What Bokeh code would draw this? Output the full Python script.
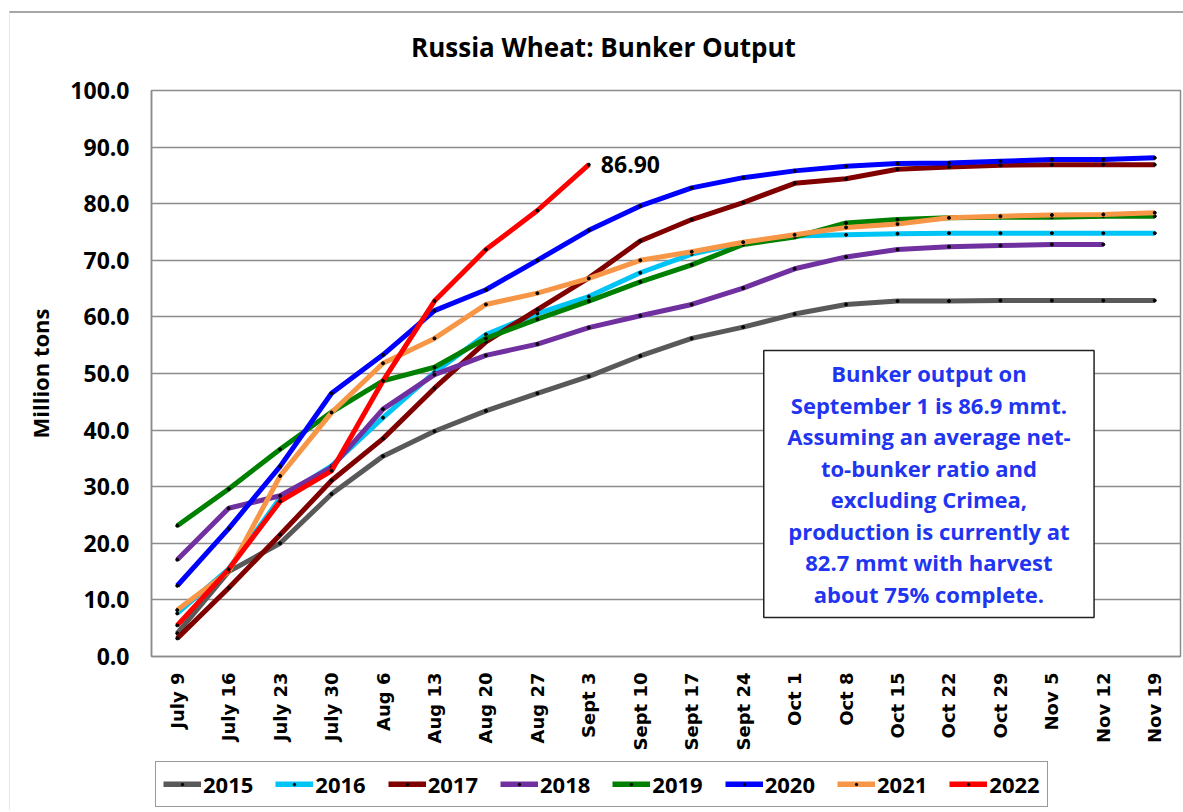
import math
from bokeh.plotting import figure
from bokeh.layouts import column
from bokeh.models import (ColumnDataSource, Legend, LegendItem, Label, BoxAnnotation,
                          FixedTicker, NumeralTickFormatter, Range1d, FactorRange)
from bokeh.embed import file_html
from bokeh.resources import INLINE

weeks = ["July 9", "July 16", "July 23", "July 30", "Aug 6", "Aug 13", "Aug 20", "Aug 27",
         "Sept 3", "Sept 10", "Sept 17", "Sept 24", "Oct 1", "Oct 8", "Oct 15", "Oct 22",
         "Oct 29", "Nov 5", "Nov 12", "Nov 19"]

years = ["2015", "2016", "2017", "2018", "2019", "2020", "2021", "2022"]

s2015 = [4.1, 15.0, 20.0, 28.7, 35.4, 39.8, 43.4, 46.5, 49.5, 53.1, 56.2, 58.2, 60.5, 62.2,
         62.8, 62.8, 62.9, 62.9, 62.9, 62.9]
s2016 = [7.6, 15.5, 28.0, 33.7, 42.2, 50.2, 56.9, 60.6, 63.6, 67.8, 71.1, 73.1, 74.3, 74.5,
         74.7, 74.8, 74.8, 74.8, 74.8, 74.8]
s2017 = [3.2, 12.1, 21.5, 31.1, 38.5, 47.4, 55.6, 61.3, 66.9, 73.4, 77.2, 80.2, 83.6, 84.4,
         86.1, 86.5, 86.8, 86.9, 86.9, 86.9]
s2018 = [17.1, 26.2, 28.4, 33.4, 43.7, 49.8, 53.2, 55.2, 58.1, 60.2, 62.2, 65.1, 68.5, 70.6,
         71.9, 72.4, 72.6, 72.8, 72.8]
s2019 = [23.1, 29.6, 36.6, 43.2, 48.7, 51.1, 56.2, 59.6, 62.8, 66.2, 69.2, 72.8, 74.1, 76.6,
         77.2, 77.5, 77.6, 77.6, 77.8, 77.8]
s2020 = [12.5, 22.6, 33.6, 46.5, 53.3, 61.1, 64.8, 70.0, 75.3, 79.6, 82.8, 84.6, 85.8, 86.6,
         87.1, 87.2, 87.5, 87.8, 87.8, 88.1]
s2021 = [8.2, 15.0, 31.9, 43.1, 51.8, 56.2, 62.2, 64.2, 66.8, 70.0, 71.5, 73.2, 74.5, 75.8,
         76.4, 77.5, 77.8, 78.0, 78.1, 78.4]
s2022 = [5.5, 15.4, 27.4, 32.8, 48.7, 62.8, 71.9, 78.8, 86.9]

series = [s2015, s2016, s2017, s2018, s2019, s2020, s2021, s2022]
colors = ["#595959", "#00C4F5", "#800000", "#7030A0", "#008000", "#0000FF", "#F79646", "#FF0000"]

y_ticks = [0, 10, 20, 30, 40, 50, 60, 70, 80, 90, 100]

title_text = "Russia Wheat: Bunker Output"
note_text = ("Bunker output on\nSeptember 1 is 86.9 mmt.\nAssuming an average net-\n"
             "to-bunker ratio and\nexcluding Crimea,\nproduction is currently at\n"
             "82.7 mmt with harvest\nabout 75% complete.")

W = 1173
x_range = FactorRange(*weeks)

# ---- title strip (page y 13..73; frame aligned with main chart frame, page x 151..1180) ----
tf = figure(width=W, height=60, x_range=Range1d(151, 1180), y_range=Range1d(73, 13),
            output_backend="svg", toolbar_location=None,
            min_border_left=141, min_border_right=3, min_border_top=0, min_border_bottom=0,
            x_axis_location=None, y_axis_location=None)
tf.outline_line_color = None
tf.grid.visible = False
tf.add_layout(Label(x=603, y=46, text=title_text, text_align="center", text_baseline="middle",
                    text_font="Open Sans", text_font_style="bold", text_font_size="26px",
                    text_color="black"))

# ---- main chart (page y 73..760; frame y 90..656) ----
p = figure(x_range=x_range, y_range=Range1d(0, 100),
           width=W, height=687, output_backend="svg", toolbar_location=None,
           min_border_left=141, min_border_right=3, min_border_top=17, min_border_bottom=104)

p.background_fill_color = "white"
p.border_fill_color = "white"
p.outline_line_color = "#8c8c8c"
p.outline_line_width = 1.5

p.xgrid.visible = False
p.ygrid.ticker = FixedTicker(ticks=y_ticks)
p.ygrid.grid_line_color = "#8c8c8c"
p.ygrid.grid_line_width = 1.5

ya = p.yaxis[0]
ya.ticker = FixedTicker(ticks=y_ticks)
ya.formatter = NumeralTickFormatter(format="0.0")
ya.major_label_text_font = "Open Sans"
ya.major_label_text_font_style = "bold"
ya.major_label_text_font_size = "23px"
ya.major_label_text_color = "black"
ya.major_tick_line_color = None
ya.minor_tick_line_color = None
ya.major_tick_out = 0
ya.major_tick_in = 0
ya.major_label_standoff = 22
ya.axis_line_color = "#8c8c8c"
ya.axis_line_width = 1.5
ya.axis_label = "Million tons"
ya.axis_label_text_font = "Open Sans"
ya.axis_label_text_font_style = "bold"
ya.axis_label_text_font_size = "22px"
ya.axis_label_text_color = "black"
ya.axis_label_standoff = 12

xa = p.xaxis[0]
xa.major_label_orientation = math.pi / 2
xa.major_label_text_font = "DejaVu Sans"
xa.major_label_text_font_style = "bold"
xa.major_label_text_font_size = "18px"
xa.major_label_text_color = "black"
xa.major_tick_line_color = None
xa.minor_tick_line_color = None
xa.major_tick_out = 0
xa.major_tick_in = 0
xa.major_label_standoff = 16
xa.axis_line_color = "#8c8c8c"
xa.axis_line_width = 1.5

sources = []
for yr, vals, col in zip(years, series, colors):
    src = ColumnDataSource(dict(x=weeks[:len(vals)], y=vals))
    sources.append(src)
    p.line("x", "y", source=src, line_color=col, line_width=5)
    p.scatter("x", "y", source=src, size=3, color="black")

last_idx = len(s2022) - 1
p.add_layout(Label(x=last_idx + 0.5, y=s2022[-1], x_offset=12,
                   text=f"{s2022[-1]:.2f}", text_align="left", text_baseline="middle",
                   text_font="Open Sans", text_font_style="bold", text_font_size="23px",
                   text_color="black"))

p.add_layout(BoxAnnotation(left=11.9, right=18.32, bottom=6.9, top=54.05,
                           fill_color="white", fill_alpha=1, line_color="#222222",
                           line_alpha=1, line_width=1.5))

p.add_layout(Label(x=15.11, y=30.55, text=note_text, text_align="center", text_baseline="middle",
                   text_line_height=1.05,
                   text_font="Open Sans", text_font_style="bold", text_font_size="22px",
                   text_color="#1F35F0"))

# ---- legend strip (page y 760..810); series drawn off-view so legend glyphs render ----
lf = figure(width=W, height=50, x_range=x_range, y_range=Range1d(1000, 1001),
            output_backend="svg", toolbar_location=None,
            min_border_left=141, min_border_right=3, min_border_top=0, min_border_bottom=0,
            x_axis_location=None, y_axis_location=None)
lf.outline_line_color = None
lf.grid.visible = False
items = []
for yr, src, col in zip(years, sources, colors):
    ln = lf.line("x", "y", source=src, line_color=col, line_width=6)
    dt = lf.scatter("x", "y", source=src, size=3, color="black")
    items.append(LegendItem(label=yr, renderers=[ln, dt]))
lf.add_layout(Legend(items=items, orientation="horizontal", location=(4, 3),
                     border_line_color="#999999", border_line_width=1.5, border_line_alpha=1,
                     label_text_font="Open Sans", label_text_font_style="bold",
                     label_text_font_size="22px", label_text_color="black",
                     glyph_width=38, glyph_height=6, label_standoff=2,
                     spacing=22, padding=7, margin=0, background_fill_alpha=1))

layout = column(tf, p, lf)
layout.styles = {"margin-left": "9px", "margin-top": "11px",
                 "border-top": "2px solid #a6a6a6", "border-left": "1px solid #e6e6e6"}

open("out.html", "w").write(file_html(layout, INLINE))
